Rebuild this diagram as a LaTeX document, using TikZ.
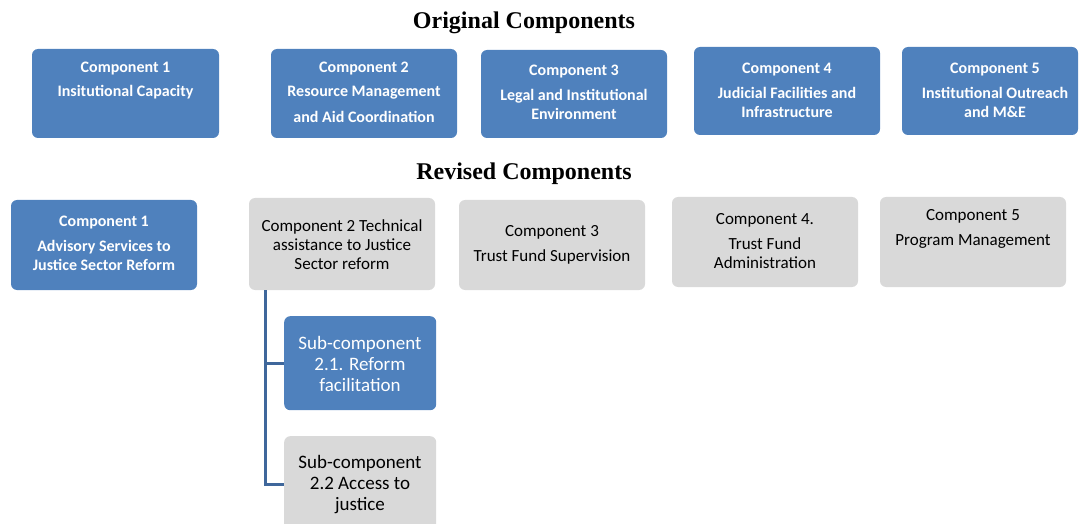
\documentclass[tikz,border=0pt]{standalone}
\usepackage{fontspec}
\setmainfont{Carlito}
\newfontfamily\titlefont{Liberation Serif}
\usetikzlibrary{positioning}

\definecolor{boxblue}{HTML}{4F81BD}
\definecolor{boxgray}{HTML}{D9D9D9}
\definecolor{lineblue}{HTML}{3F679B}

\tikzset{
    bluebox/.style={fill=boxblue, draw=none, rounded corners=6pt},
    graybox/.style={fill=boxgray, draw=none, rounded corners=6pt},
    bluetext/.style={anchor=north, inner sep=0pt, align=center, text=white,
        font=\fontsize{16pt}{18.5pt}\selectfont\bfseries},
    graytext/.style={anchor=north, inner sep=0pt, align=center, text=black,
        font=\fontsize{17pt}{19pt}\selectfont},
    subtext/.style={anchor=north, inner sep=0pt, align=center,
        font=\fontsize{19pt}{21pt}\selectfont},
    heading/.style={font=\titlefont\fontsize{24pt}{26pt}\selectfont\bfseries},
    conn/.style={draw=lineblue, line width=3pt}
}

\begin{document}
\begin{tikzpicture}[x=1pt, y=-1pt]
    \useasboundingbox (0, 0) rectangle (1080, 524);

    % original components
    \node[heading] (origtitle) at (524, 23) {Original Components};

    \draw[bluebox] (32, 49) rectangle (219, 138);
    \node[bluetext] (o1text) at (125.5, 62) {Component 1\\[5.5pt]Insitutional Capacity};

    \draw[bluebox] (271, 49) rectangle (457, 138);
    \node[bluetext] (o2text) at (364, 62) {Component 2\\[5.5pt]Resource Management\\[7.5pt]and Aid Coordination};

    \draw[bluebox] (481, 50) rectangle (667, 138);
    \node[bluetext] (o3text) at (574, 65) {Component 3\\[6.5pt]Legal and Institutional\\Environment};

    \draw[bluebox] (694, 47) rectangle (880, 135);
    \node[bluetext] (o4text) at (787, 63) {Component 4\\[6.5pt]Judicial Facilities and\\Infrastructure};

    \draw[bluebox] (902, 47) rectangle (1078, 135);
    \node[bluetext] (o5text) at (995, 63) {Component 5\\[6.5pt]Institutional Outreach\\and M\&E};

    % revised components
    \node[heading] (revtitle) at (524, 174) {Revised Components};

    \draw[bluebox] (11, 200) rectangle (197, 290);
    \node[bluetext] (r1text) at (104, 216) {Component 1\\[6.5pt]Advisory Services to\\Justice Sector Reform};

    \draw[graybox] (249, 198) rectangle (435, 290);
    \coordinate (r2) at (265, 290);
    \node[graytext] (r2text) at (342, 219) {Component 2 Technical\\assistance to Justice\\Sector reform};

    \draw[graybox] (459, 200) rectangle (645, 290);
    \node[graytext] (r3text) at (552, 225) {Component 3\\[6pt]Trust Fund Supervision};

    \draw[graybox] (672, 197) rectangle (858, 287);
    \node[graytext] (r4text) at (765, 213) {Component 4.\\[6pt]Trust Fund\\Administration};

    \draw[graybox] (880, 197) rectangle (1066, 287);
    \node[graytext] (r5text) at (973, 209) {Component 5\\[6pt]Program Management};

    % sub-components
    \node[bluebox, minimum width=152pt, minimum height=94pt, anchor=north west] (s1) at (284, 316) {};
    \node[subtext, text=white] (s1text) at (360, 336) {Sub-component\\2.1. Reform\\facilitation};

    \node[graybox, minimum width=152pt, minimum height=96pt, anchor=north west] (s2) at (284, 436) {};
    \node[subtext, text=black] (s2text) at (360, 455) {Sub-component\\2.2 Access to\\justice};

    \draw[conn] (r2) |- (s1.west);
    \draw[conn] (r2) |- (s2.west);
\end{tikzpicture}
\end{document}
